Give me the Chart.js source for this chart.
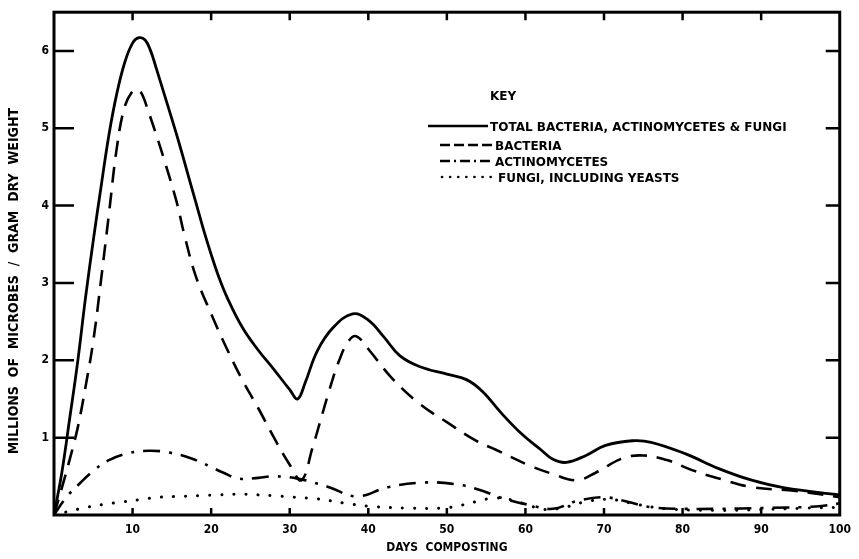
<!DOCTYPE html>
<html>
<head>
<meta charset="utf-8">
<script src="https://cdn.jsdelivr.net/npm/chart.js@4.4.1/dist/chart.umd.min.js"></script>
<style>
  html, body { margin: 0; padding: 0; background: #fff; }
  #wrap { position: relative; width: 859px; height: 559px; }
  #key { position: absolute; left: 0; top: 0; pointer-events: none; }
  #key text { font-family: "DejaVu Sans", sans-serif; font-weight: bold; font-size: 12px; fill: #000; }
</style>
</head>
<body>
<div id="wrap">
  <canvas id="chart" width="859" height="559"></canvas>
  <svg id="key" width="859" height="559"></svg>
</div>
<script>
// Data (days composting -> millions of microbes / gram dry weight)
const totalDays = [0, 1, 2, 3, 4, 5, 6, 7, 8, 9, 10, 10.8, 11.6, 12.3, 13, 14, 15, 16, 17, 18, 19, 20, 21, 22, 24, 26, 28, 30, 31, 32, 33.5, 35.5, 38, 40, 42, 44, 46.5, 50, 52.5, 54.5, 57, 59.5, 62, 63.5, 65.2, 67.7, 70.2, 73.6, 76, 80.4, 84.6, 88.8, 93, 100];
const totalValues = [0, 0.55, 1.25, 1.97, 2.8, 3.55, 4.25, 4.92, 5.45, 5.85, 6.1, 6.17, 6.14, 6.0, 5.78, 5.45, 5.12, 4.78, 4.42, 4.06, 3.7, 3.37, 3.07, 2.82, 2.42, 2.13, 1.88, 1.62, 1.5, 1.72, 2.12, 2.42, 2.6, 2.52, 2.3, 2.06, 1.92, 1.82, 1.75, 1.6, 1.31, 1.05, 0.84, 0.72, 0.68, 0.77, 0.9, 0.96, 0.94, 0.79, 0.6, 0.45, 0.35, 0.26];

const bacteriaDays = [0, 1, 2, 3, 4, 5, 6, 7, 8, 9, 10, 10.6, 11.2, 12, 13, 14, 15.6, 16.6, 18, 20, 22, 24, 26, 28, 30, 31.5, 32.9, 33.8, 35, 36.3, 37.5, 38.5, 40.2, 43, 46.5, 50, 53.7, 56.3, 60.5, 63.5, 66.5, 69, 72.3, 75, 78, 81.2, 85, 88.8, 94.4, 100];
const bacteriaValues = [0, 0.35, 0.72, 1.12, 1.65, 2.25, 3.05, 3.9, 4.75, 5.28, 5.48, 5.5, 5.44, 5.22, 4.92, 4.6, 4.05, 3.62, 3.1, 2.6, 2.15, 1.74, 1.38, 1.0, 0.65, 0.45, 0.87, 1.18, 1.6, 2.0, 2.25, 2.31, 2.12, 1.77, 1.44, 1.2, 0.96, 0.84, 0.64, 0.53, 0.45, 0.55, 0.73, 0.77, 0.71, 0.58, 0.46, 0.36, 0.31, 0.23];

const actinoDays = [0, 1.5, 3.3, 5, 7, 9.5, 12, 14.5, 17.5, 21.5, 23.5, 26, 28, 31, 35, 38.5, 42.5, 47, 51, 54, 57, 60.5, 63.5, 66.5, 70, 73, 76, 80, 85, 90, 97, 100];
const actinoValues = [0, 0.22, 0.41, 0.57, 0.71, 0.8, 0.83, 0.81, 0.73, 0.55, 0.47, 0.48, 0.5, 0.47, 0.36, 0.24, 0.36, 0.42, 0.4, 0.33, 0.22, 0.13, 0.08, 0.18, 0.23, 0.17, 0.1, 0.08, 0.08, 0.09, 0.11, 0.15];

const fungiDays = [0, 2, 4.2, 6.5, 8.8, 11, 13.5, 16, 18.6, 21, 23.6, 26, 27.8, 30.5, 33.4, 35.5, 37.2, 40.5, 44.8, 49.4, 52, 54, 56, 58, 60, 62.5, 65, 68, 71, 74, 78, 84, 90, 96, 100];
const fungiValues = [0, 0.05, 0.1, 0.14, 0.17, 0.2, 0.23, 0.24, 0.25, 0.26, 0.27, 0.26, 0.25, 0.23, 0.21, 0.18, 0.15, 0.11, 0.09, 0.09, 0.13, 0.18, 0.22, 0.2, 0.14, 0.07, 0.1, 0.18, 0.2, 0.14, 0.08, 0.06, 0.07, 0.09, 0.1];

const seriesLabels = ['TOTAL BACTERIA, ACTINOMYCETES & FUNGI', 'BACTERIA', 'ACTINOMYCETES', 'FUNGI, INCLUDING YEASTS'];
const xTickValues = [10, 20, 30, 40, 50, 60, 70, 80, 90];
const yTickValues = [1, 2, 3, 4, 5, 6];

function toPoints(xs, ys) {
  return xs.map((x, i) => ({ x: x, y: ys[i] }));
}

const labelFont = { family: '"DejaVu Sans Condensed", "DejaVu Sans", sans-serif', weight: 'bold', size: 12 };

// frame + inward tick marks, placed by the chart's own scales
const frameTicks = {
  id: 'frameTicks',
  afterDraw(chart) {
    const { ctx, chartArea: a, scales: { x, y } } = chart;
    ctx.save();
    ctx.strokeStyle = '#000';
    ctx.lineWidth = 3;
    ctx.strokeRect(a.left, a.top, a.right - a.left, a.bottom - a.top);
    ctx.lineWidth = 2.5;
    ctx.beginPath();
    yTickValues.forEach(v => {
      const py = y.getPixelForValue(v);
      ctx.moveTo(a.left, py); ctx.lineTo(a.left + 20, py);
      ctx.moveTo(a.right, py); ctx.lineTo(a.right - 14, py);
    });
    xTickValues.forEach(v => {
      const px = x.getPixelForValue(v);
      ctx.moveTo(px, a.bottom); ctx.lineTo(px, a.bottom - 7);
      ctx.moveTo(px, a.top); ctx.lineTo(px, a.top + 8);
    });
    ctx.stroke();
    ctx.restore();
  }
};

const styles = [
  { width: 2.8, dash: [], svgDash: '', cap: 'butt' },
  { width: 2.6, dash: [16, 10], svgDash: '10 4', cap: 'butt' },
  { width: 2.6, dash: [17, 9, 3, 9], svgDash: '10 4 2 4', cap: 'butt' },
  { width: 3, dash: [0.1, 12], svgDash: '0.1 8', cap: 'round' }
];

const allPoints = [
  toPoints(totalDays, totalValues),
  toPoints(bacteriaDays, bacteriaValues),
  toPoints(actinoDays, actinoValues),
  toPoints(fungiDays, fungiValues)
];

new Chart(document.getElementById('chart'), {
  type: 'line',
  data: {
    datasets: allPoints.map((pts, i) => ({
      label: seriesLabels[i],
      data: pts,
      borderColor: '#000',
      borderWidth: styles[i].width,
      borderDash: styles[i].dash,
      borderCapStyle: styles[i].cap,
      pointRadius: 0,
      fill: false,
      tension: 0.4
    }))
  },
  options: {
    responsive: false,
    animation: false,
    layout: { padding: { left: 0, right: 17, top: 8, bottom: 0 } },
    plugins: { legend: { display: false }, tooltip: { enabled: false } },
    scales: {
      x: {
        type: 'linear',
        min: 0,
        max: 100,
        grid: { display: false, drawTicks: false },
        border: { display: false },
        ticks: {
          stepSize: 10,
          color: '#000',
          font: labelFont,
          padding: 8,
          maxRotation: 0,
          callback: v => (v === 0 ? '' : v)
        },
        title: {
          display: true,
          text: 'DAYS  COMPOSTING',
          color: '#000',
          font: labelFont,
          padding: { top: 2, bottom: 4 }
        },
        afterFit: s => { s.height = 44; }
      },
      y: {
        min: 0,
        max: 6.5,
        grid: { display: false, drawTicks: false },
        border: { display: false },
        ticks: {
          stepSize: 1,
          color: '#000',
          font: labelFont,
          padding: 5,
          callback: v => (v > 0 && Number.isInteger(v) ? v : '')
        },
        title: {
          display: true,
          text: 'MILLIONS  OF  MICROBES  /  GRAM  DRY  WEIGHT        ',
          color: '#000',
          font: { family: '"DejaVu Sans Condensed", "DejaVu Sans", sans-serif', weight: 'bold', size: 14 },
          padding: { top: 6, bottom: 0 }
        },
        afterFit: s => { s.width = 54; }
      }
    }
  },
  plugins: [frameTicks]
});

// key drawn as svg over the plot
const svgNS = 'http://www.w3.org/2000/svg';
const key = document.getElementById('key');
const keyRows = [
  { y: 126, x1: 428, x2: 488, tx: 490 },
  { y: 145, x1: 440, x2: 494, tx: 495 },
  { y: 161, x1: 440, x2: 494, tx: 495 },
  { y: 177, x1: 442, x2: 497, tx: 498 }
];
const head = document.createElementNS(svgNS, 'text');
head.setAttribute('x', 490);
head.setAttribute('y', 100);
head.textContent = 'KEY';
key.appendChild(head);
keyRows.forEach((r, i) => {
  const ln = document.createElementNS(svgNS, 'line');
  ln.setAttribute('x1', r.x1); ln.setAttribute('x2', r.x2);
  ln.setAttribute('y1', r.y); ln.setAttribute('y2', r.y);
  ln.setAttribute('stroke', '#000');
  ln.setAttribute('stroke-width', i === 3 ? 2.6 : 2.4);
  if (styles[i].svgDash) ln.setAttribute('stroke-dasharray', styles[i].svgDash);
  ln.setAttribute('stroke-linecap', styles[i].cap);
  key.appendChild(ln);
  const t = document.createElementNS(svgNS, 'text');
  t.setAttribute('x', r.tx);
  t.setAttribute('y', r.y + 4.5);
  t.textContent = seriesLabels[i];
  key.appendChild(t);
});
</script>
</body>
</html>
